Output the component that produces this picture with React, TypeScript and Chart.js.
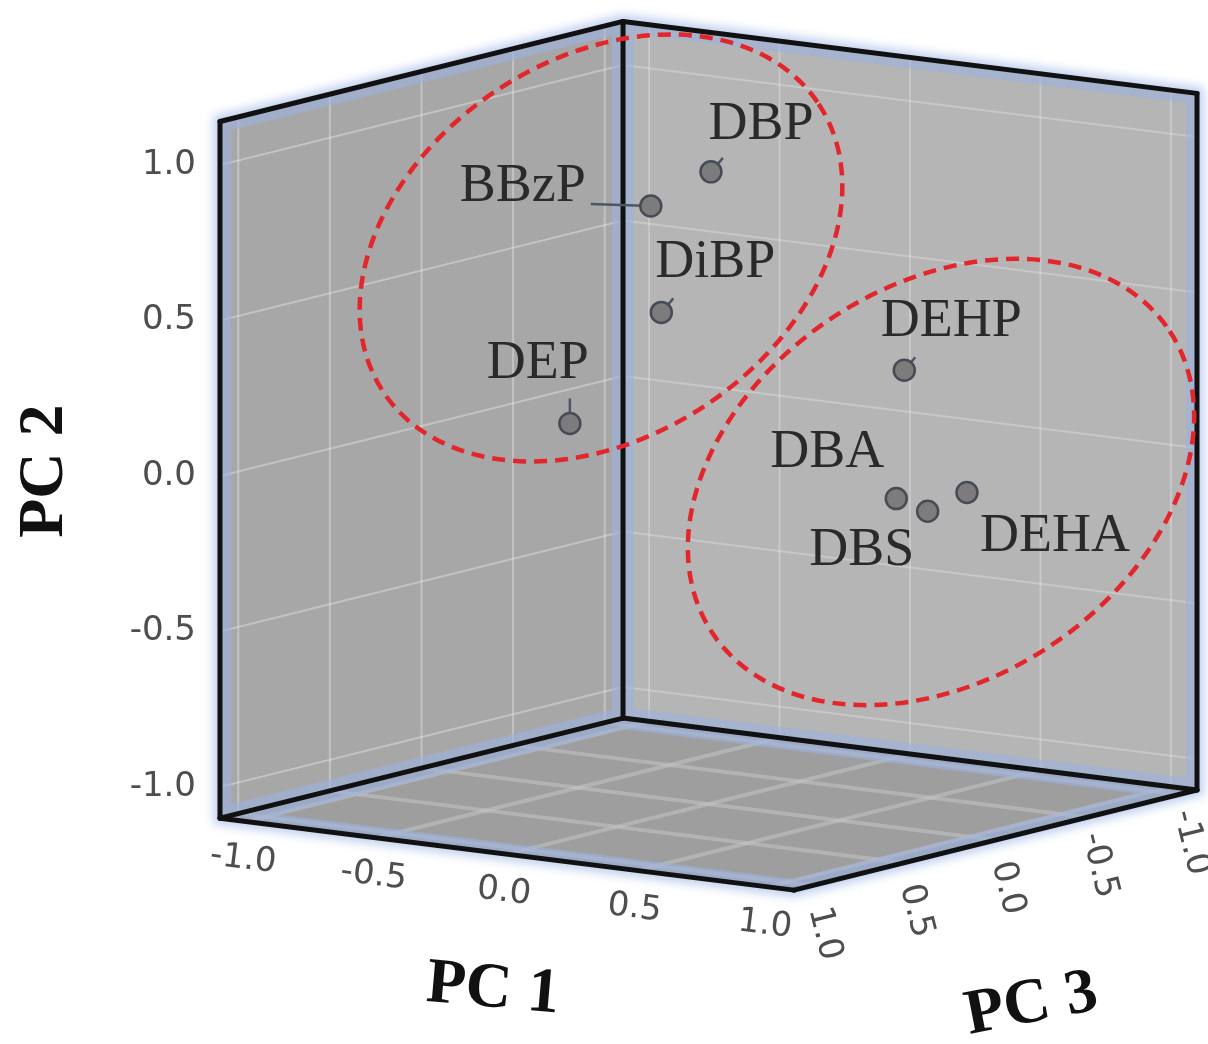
import React, { useEffect, useRef } from "react";
import { Chart, registerables } from "chart.js";

Chart.register(...registerables);

// ---------- data ----------
const compounds = ["DBP", "BBzP", "DiBP", "DEP", "DEHP", "DBA", "DBS", "DEHA"];
const pc1Values = [0.22, 0.13, 0.1, -0.11, 0.61, 0.79, 0.84, 0.78];
const pc2Values = [1.0, 0.91, 0.55, 0.2, 0.33, -0.02, -0.07, -0.06];
const pc3Values = [0.3, 0.5, 0.4, 0.6, -0.2, 0.1, 0.0, -0.3];
const axisTicks = [-1.0, -0.5, 0.0, 0.5, 1.0];
const axisTitles = ["PC 1", "PC 2", "PC 3"];

// ---------- layout / style ----------
const W = 1208;
const H = 1044;
// axis ranges of the 3D box
const R1 = [-1.1, 1.1];
const R2 = [-1.1, 1.14];
const R3 = [-1.1, 1.1];
// orthographic camera (view units per PC unit)
const ORIGIN = { x: 708.5, y: 462 };
const E1 = { x: 260.9, y: 32.7 };
const E2 = { x: 0, y: -311 };
const E3 = { x: -183.2, y: 45.5 };

function proj(a: number, b: number, c: number) {
  return {
    x: ORIGIN.x + a * E1.x + b * E2.x + c * E3.x,
    y: ORIGIN.y + a * E1.y + b * E2.y + c * E3.y,
  };
}

// label placement (pixels relative to the marker) and leader-line tails
const labelOffsets: [number, number][] = [
  [50, -47],
  [-128, -19],
  [54, -50],
  [-32, -60],
  [47, -48],
  [-69, -46],
  [-66, 40],
  [88, 44],
];
const leaderTails: ([number, number] | null)[] = [
  [12, -14],
  [-60, -2],
  [12, -14],
  [0, -25],
  [11, -13],
  null,
  null,
  null,
];

// cluster ellipses (view units): cx, cy, rx, ry, rotation(deg)
const ellipseCx = [601, 941];
const ellipseCy = [248, 482];
const ellipseRx = [261, 274];
const ellipseRy = [189, 197];
const ellipseRot = [-33.5, -33.4];

const fmt = (v: number) => (v < 0 ? "-" : "") + Math.abs(v).toFixed(1);

const boxPlugin = {
  id: "box3d",
  beforeDatasetsDraw(chart: any) {
    const ctx: CanvasRenderingContext2D = chart.ctx;
    const sx = chart.scales.x;
    const sy = chart.scales.y;
    const P = (a: number, b: number, c: number): [number, number] => {
      const v = proj(a, b, c);
      return [sx.getPixelForValue(v.x), sy.getPixelForValue(v.y)];
    };
    const [x0, x1] = R1;
    const [y0, y1] = R2;
    const [z0, z1] = R3;
    const left = [P(x0, y0, z1), P(x0, y1, z1), P(x0, y1, z0), P(x0, y0, z0)];
    const right = [P(x0, y0, z0), P(x0, y1, z0), P(x1, y1, z0), P(x1, y0, z0)];
    const floor = [P(x0, y0, z0), P(x1, y0, z0), P(x1, y0, z1), P(x0, y0, z1)];
    const outline = [
      P(x0, y0, z1), P(x0, y1, z1), P(x0, y1, z0), P(x1, y1, z0),
      P(x1, y0, z0), P(x1, y0, z1),
    ];
    const path = (pts: [number, number][]) => {
      ctx.beginPath();
      pts.forEach((p, i) => (i ? ctx.lineTo(p[0], p[1]) : ctx.moveTo(p[0], p[1])));
      ctx.closePath();
    };
    const line = (a: [number, number], b: [number, number]) => {
      ctx.beginPath();
      ctx.moveTo(a[0], a[1]);
      ctx.lineTo(b[0], b[1]);
      ctx.stroke();
    };

    ctx.save();
    // soft outer glow
    ctx.filter = "blur(5px)";
    path(outline);
    ctx.strokeStyle = "rgba(175,195,235,0.75)";
    ctx.lineWidth = 14;
    ctx.stroke();
    ctx.filter = "none";

    // faces
    path(left);
    ctx.fillStyle = "#a7a7a7";
    ctx.fill();
    path(right);
    ctx.fillStyle = "#b5b5b5";
    ctx.fill();
    path(floor);
    ctx.fillStyle = "#9e9e9e";
    ctx.fill();

    // grid lines
    const grid = (face: [number, number][], segs: [[number, number], [number, number]][], color: string, w: number) => {
      ctx.save();
      path(face);
      ctx.clip();
      ctx.strokeStyle = color;
      ctx.lineWidth = w;
      segs.forEach((s) => line(s[0], s[1]));
      ctx.restore();
    };
    grid(
      left,
      [
        ...axisTicks.map((t) => [P(x0, y0, t), P(x0, y1, t)] as any),
        ...axisTicks.map((t) => [P(x0, t, z0), P(x0, t, z1)] as any),
      ],
      "rgba(235,235,235,0.4)",
      2
    );
    grid(
      right,
      [
        ...axisTicks.map((t) => [P(t, y0, z0), P(t, y1, z0)] as any),
        ...axisTicks.map((t) => [P(x0, t, z0), P(x1, t, z0)] as any),
      ],
      "rgba(235,235,235,0.35)",
      2
    );
    grid(
      floor,
      [
        ...axisTicks.map((t) => [P(t, y0, z0), P(t, y0, z1)] as any),
        ...axisTicks.map((t) => [P(x0, y0, t), P(x1, y0, t)] as any),
      ],
      "rgba(200,200,200,0.5)",
      4
    );

    // inner blue bands along the edges
    [left, right, floor].forEach((face) => {
      ctx.save();
      path(face);
      ctx.clip();
      path(face);
      ctx.strokeStyle = "rgba(155,178,225,0.6)";
      ctx.lineWidth = 22;
      ctx.stroke();
      ctx.restore();
    });

    // black edges
    ctx.strokeStyle = "#111";
    ctx.lineWidth = 5;
    ctx.lineJoin = "round";
    ctx.lineCap = "round";
    const edges: [[number, number], [number, number]][] = [
      [P(x0, y0, z1), P(x0, y1, z1)],
      [P(x0, y0, z0), P(x0, y1, z0)],
      [P(x1, y0, z0), P(x1, y1, z0)],
      [P(x0, y1, z1), P(x0, y1, z0)],
      [P(x0, y1, z0), P(x1, y1, z0)],
      [P(x0, y0, z1), P(x0, y0, z0)],
      [P(x0, y0, z0), P(x1, y0, z0)],
      [P(x0, y0, z1), P(x1, y0, z1)],
      [P(x1, y0, z0), P(x1, y0, z1)],
    ];
    edges.forEach((e) => line(e[0], e[1]));

    // tick labels
    ctx.fillStyle = "#4e4e4e";
    ctx.font = "34px 'DejaVu Sans'";
    ctx.textBaseline = "middle";
    axisTicks.forEach((t) => {
      const p = P(x0, t, z1);
      ctx.textAlign = "right";
      ctx.fillText(fmt(t), p[0] - 24, p[1]);
    });
    axisTicks.forEach((t) => {
      const p = P(t, y0, z1);
      ctx.save();
      ctx.translate(p[0] - 3, p[1] + 38);
      ctx.rotate((7 * Math.PI) / 180);
      ctx.textAlign = "center";
      ctx.fillText(fmt(t), 0, 0);
      ctx.restore();
    });
    axisTicks.forEach((t) => {
      const p = P(x1, y0, t);
      ctx.save();
      ctx.translate(p[0] + 12, p[1] + 48);
      ctx.rotate((76 * Math.PI) / 180);
      ctx.textAlign = "center";
      ctx.fillText(fmt(t), 0, 0);
      ctx.restore();
    });

    // axis titles
    ctx.fillStyle = "#111";
    ctx.font = "bold 64px 'Liberation Serif'";
    ctx.textAlign = "center";
    const t1 = P(0, y0, z1);
    ctx.save();
    ctx.translate(t1[0] - 14, t1[1] + 136);
    ctx.rotate((5 * Math.PI) / 180);
    ctx.fillText(axisTitles[0], 0, 0);
    ctx.restore();
    const t2 = P(x0, 0, z1);
    ctx.save();
    ctx.translate(t2[0] - 175, t2[1] - 5);
    ctx.rotate(-Math.PI / 2);
    ctx.fillText(axisTitles[1], 0, 0);
    ctx.restore();
    const t3 = P(x1, y0, 0);
    ctx.save();
    ctx.translate(t3[0] + 36, t3[1] + 165);
    ctx.rotate((-11 * Math.PI) / 180);
    ctx.fillText(axisTitles[2], 0, 0);
    ctx.restore();

    // leader lines
    const meta = chart.getDatasetMeta(0);
    ctx.strokeStyle = "#4d5566";
    ctx.lineWidth = 2.5;
    ctx.lineCap = "butt";
    leaderTails.forEach((tail, i) => {
      if (!tail) return;
      const el = meta.data[i];
      line([el.x, el.y], [el.x + tail[0], el.y + tail[1]]);
    });
    ctx.restore();
  },
  afterDatasetsDraw(chart: any) {
    const ctx: CanvasRenderingContext2D = chart.ctx;
    const sx = chart.scales.x;
    const sy = chart.scales.y;
    const meta = chart.getDatasetMeta(0);
    ctx.save();
    // point labels
    ctx.fillStyle = "#2a2a2a";
    ctx.font = "54px 'Liberation Serif'";
    ctx.textAlign = "center";
    ctx.textBaseline = "middle";
    compounds.forEach((name, i) => {
      const el = meta.data[i];
      ctx.fillText(name, el.x + labelOffsets[i][0], el.y + labelOffsets[i][1]);
    });
    // cluster ellipses
    ctx.strokeStyle = "#e3262b";
    ctx.lineWidth = 4.5;
    ctx.setLineDash([13, 8]);
    ellipseCx.forEach((cx, i) => {
      const px = sx.getPixelForValue(cx);
      const py = sy.getPixelForValue(ellipseCy[i]);
      const rx = Math.abs(sx.getPixelForValue(cx + ellipseRx[i]) - px);
      const ry = Math.abs(sy.getPixelForValue(ellipseCy[i] + ellipseRy[i]) - py);
      ctx.beginPath();
      ctx.ellipse(px, py, rx, ry, (ellipseRot[i] * Math.PI) / 180, 0, Math.PI * 2);
      ctx.stroke();
    });
    ctx.restore();
  },
};

export default function App() {
  const ref = useRef<HTMLCanvasElement>(null);
  useEffect(() => {
    const canvas = ref.current;
    if (!canvas) return;
    const chart = new Chart(canvas, {
      type: "scatter",
      data: {
        datasets: [
          {
            label: "loadings",
            data: compounds.map((_, i) => proj(pc1Values[i], pc2Values[i], pc3Values[i])),
            pointRadius: 10.5,
            pointBackgroundColor: "#7c7c7c",
            pointBorderColor: "#474b55",
            pointBorderWidth: 2.5,
            showLine: false,
          },
        ],
      },
      options: {
        animation: false,
        responsive: false,
        events: [],
        layout: { padding: 0, autoPadding: false },
        scales: {
          x: { type: "linear", min: 0, max: W, display: false },
          y: { type: "linear", min: 0, max: H, reverse: true, display: false },
        },
        plugins: { legend: { display: false }, tooltip: { enabled: false } },
      },
      plugins: [boxPlugin],
    });
    return () => chart.destroy();
  }, []);
  return (
    <canvas
      ref={ref}
      width={W}
      height={H}
      style={{ position: "absolute", left: 0, top: 0, width: W, height: H }}
    />
  );
}
